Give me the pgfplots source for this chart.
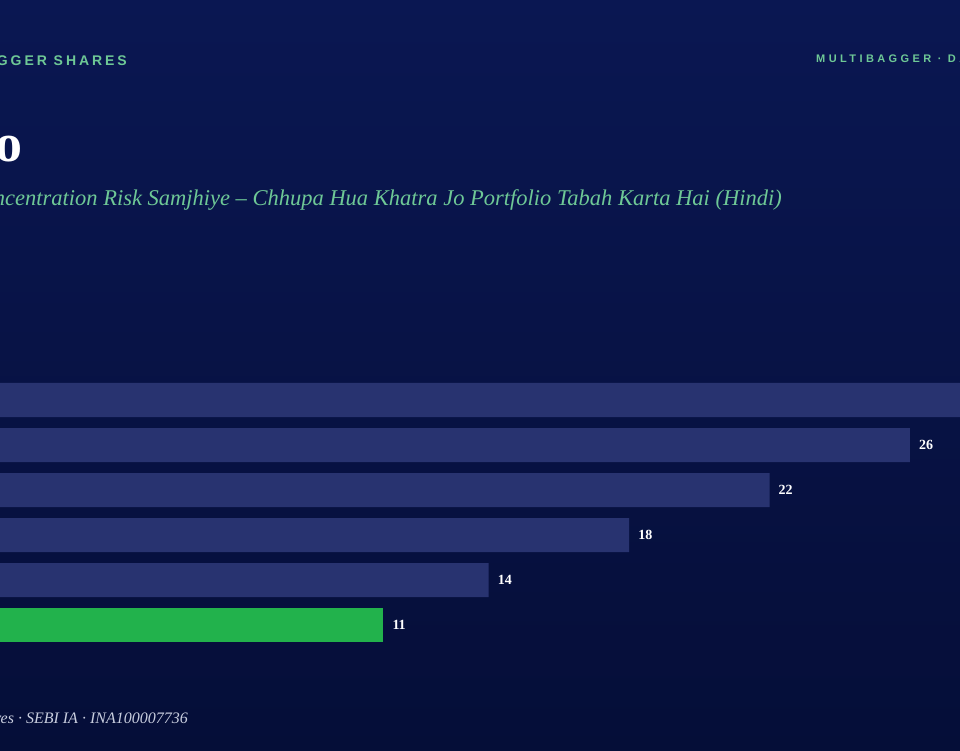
\documentclass[border=0pt]{standalone}
\usepackage{pgfplots}
\pgfplotsset{compat=1.18}
\usepackage{fontspec}
\setmainfont{Liberation Serif}
\newfontfamily\hdrL[LetterSpace=21]{Liberation Sans}
\newfontfamily\hdrR[LetterSpace=31]{Liberation Sans}
\definecolor{bgtop}{RGB}{10,23,82}
\definecolor{bgbot}{RGB}{5,14,56}
\definecolor{barblue}{RGB}{40,51,112}
\definecolor{bargreen}{RGB}{34,178,76}
\definecolor{mint}{RGB}{110,200,150}
\definecolor{foot}{RGB}{200,205,222}
\begin{document}
\begin{tikzpicture}[x=1pt,y=1pt]
\useasboundingbox (0,0) rectangle (960,750);
\clip (0,0) rectangle (960,750);
\shade[top color=bgtop, bottom color=bgbot] (0,0) rectangle (960,750);
% header
\node[anchor=base east, inner sep=0pt, text=mint] at (127,684)
  {\hdrL\bfseries\fontsize{14}{16}\selectfont MULTIBAGGER SHARES};
\node[anchor=base west, inner sep=0pt, text=mint] at (816,687)
  {\hdrR\bfseries\fontsize{11}{13}\selectfont MULTIBAGGER · DATA};
% title
\node[anchor=base east, inner sep=0pt, text=white] at (23,588)
  {\bfseries\fontsize{54}{60}\selectfont Portfolio};
% subtitle
\node[anchor=base east, inner sep=0pt, text=mint] at (782,544)
  {\itshape\fontsize{22.5}{26}\selectfont Concentration Risk Samjhiye – Chhupa Hua Khatra Jo Portfolio Tabah Karta Hai (Hindi)};
% footer
\node[anchor=base east, inner sep=0pt, text=foot] at (188,27)
  {\itshape\fontsize{16}{18}\selectfont Multibagger Shares · SEBI IA · INA100007736};
\begin{axis}[
  at={(-2.9pt,80pt)}, anchor=south west,
  scale only axis, width=1053.3pt, height=315pt,
  xmin=0, xmax=30, ymin=-1, ymax=6,
  hide axis, clip=false,
  /pgf/number format/assume math mode=true,
  xbar, bar width=34pt, bar shift=0pt,
  nodes near coords,
  every node near coord/.style={anchor=west, inner sep=0pt, xshift=9pt,
     text=white, font=\bfseries\fontsize{14}{16}\selectfont},
]
\addplot[draw=none, fill=barblue] coordinates {(30,5) (26,4) (22,3) (18,2) (14,1)};
\addplot[draw=none, fill=bargreen] coordinates {(11,0)};
\end{axis}
\end{tikzpicture}
\end{document}
